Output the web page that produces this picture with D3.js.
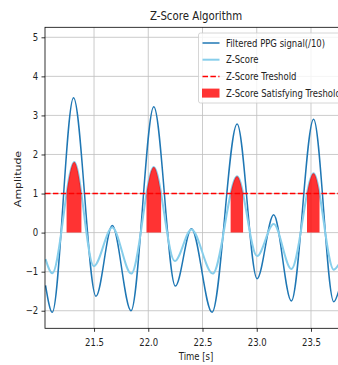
<!DOCTYPE html>
<html>
<head>
<meta charset="utf-8">
<script src="https://cdn.jsdelivr.net/npm/d3@7"></script>
<style>
  body { margin: 0; background: #fff; }
  svg { display: block; font-family: "DejaVu Sans", sans-serif; }
</style>
</head>
<body>
<div id="chart"></div>
<script>
// values (extrema + edge points)
const ppgTime = [21.053, 21.115, 21.311, 21.518, 21.668, 21.841, 22.051, 22.25, 22.398, 22.588, 22.819, 23.003, 23.156, 23.319, 23.524, 23.71, 23.755];
const ppgValue = [-1.35, -2.04, 3.45, -1.63, 0.18, -2.0, 3.22, -1.37, 0.1, -2.04, 2.78, -1.18, 0.46, -1.75, 2.9, -1.77, -1.5];
const zTime = [21.053, 21.115, 21.318, 21.498, 21.668, 21.843, 22.051, 22.244, 22.398, 22.594, 22.819, 23.003, 23.156, 23.319, 23.524, 23.71, 23.755];
const zValue = [-0.68, -1.04, 1.81, -0.86, 0.13, -1.05, 1.68, -0.73, 0.08, -1.05, 1.44, -0.6, 0.22, -0.93, 1.52, -0.95, -0.82];
const threshold = 1;
const xTicks = [21.5, 22.0, 22.5, 23.0, 23.5];
const yTicks = [-2, -1, 0, 1, 2, 3, 4, 5];
const legendLabels = ["Filtered PPG signal(/10)", "Z-Score", "Z-Score Treshold", "Z-Score Satisfying Treshold"];

const width = 338, height = 365;
const mLeft = 45, mRight = 347, mTop = 27.3, mBottom = 328.3;
const squish = 0.85;

const ppg = ppgTime.map((t, i) => ({t, v: ppgValue[i]}));
const zs = zTime.map((t, i) => ({t, v: zValue[i]}));

const x = d3.scaleLinear().domain([21.048, 23.832]).range([mLeft, mRight]);
const y = d3.scaleLinear().domain([-2.45, 5.256]).range([mBottom, mTop]);

const svg = d3.select("#chart").append("svg")
  .attr("width", width)
  .attr("height", height);

svg.append("clipPath").attr("id", "plot")
  .append("rect")
  .attr("x", mLeft).attr("y", mTop)
  .attr("width", mRight - mLeft).attr("height", mBottom - mTop);

// grid
const grid = svg.append("g").attr("stroke", "#b0b0b0").attr("stroke-width", 0.8).attr("opacity", 0.8);
grid.selectAll("line.gx").data(xTicks).join("line")
  .attr("x1", d => x(d)).attr("x2", d => x(d))
  .attr("y1", mTop).attr("y2", mBottom);
grid.selectAll("line.gy").data(yTicks).join("line")
  .attr("x1", mLeft).attr("x2", mRight)
  .attr("y1", d => y(d)).attr("y2", d => y(d));

const plot = svg.append("g").attr("clip-path", "url(#plot)");

const line = d3.line().x(d => x(d.t)).y(d => y(d.v)).curve(d3.curveMonotoneX);

plot.append("path")
  .attr("d", line(ppg))
  .attr("fill", "none")
  .attr("stroke", "#1f77b4")
  .attr("stroke-width", 1.5);

const zPath = plot.append("path")
  .attr("d", line(zs))
  .attr("fill", "none")
  .attr("stroke", "#87ceeb")
  .attr("stroke-width", 2);

plot.append("line")
  .attr("x1", mLeft).attr("x2", mRight)
  .attr("y1", y(threshold)).attr("y2", y(threshold))
  .attr("stroke", "red")
  .attr("stroke-width", 1.5)
  .attr("stroke-dasharray", "5.5,2.4");

// spans where the drawn z-score curve is above the threshold
const node = zPath.node();
const len = node.getTotalLength();
const spans = [];
let cur = null;
for (let s = 0; s <= len; s += 0.25) {
  const p = node.getPointAtLength(s);
  if (p.y < y(threshold)) {
    if (!cur) cur = [p.x, p.x];
    cur[1] = p.x;
  } else if (cur) { spans.push(cur); cur = null; }
}
if (cur) spans.push(cur);

const fillClip = svg.append("clipPath").attr("id", "above");
fillClip.selectAll("rect").data(spans).join("rect")
  .attr("x", d => d[0]).attr("width", d => d[1] - d[0])
  .attr("y", mTop).attr("height", mBottom - mTop);

const area = d3.area().x(d => x(d.t)).y0(y(0)).y1(d => y(d.v)).curve(d3.curveMonotoneX);
plot.append("g").attr("clip-path", "url(#above)")
  .append("path")
  .attr("d", area(zs))
  .attr("fill", "red")
  .attr("fill-opacity", 0.8);

// axes
const xAxis = svg.append("g")
  .attr("transform", `translate(0,${mBottom})`)
  .call(d3.axisBottom(x).tickValues(xTicks).tickFormat(d3.format(".1f")).tickSize(3.5).tickPadding(7));
const yAxis = svg.append("g")
  .attr("transform", `translate(${mLeft},0)`)
  .call(d3.axisLeft(y).tickValues(yTicks).tickFormat(d => d < 0 ? "\u2212" + Math.abs(d) : d).tickSize(3.5).tickPadding(4.5));

[xAxis, yAxis].forEach(a => {
  a.select(".domain").remove();
  a.selectAll("line").attr("stroke", "#000").attr("stroke-width", 0.8);
  a.selectAll("text")
    .attr("font-size", 10)
    .attr("fill", "#222")
    .attr("font-family", "DejaVu Sans")
    .attr("transform", `scale(${squish},1)`);
});

svg.append("rect")
  .attr("x", mLeft).attr("y", mTop)
  .attr("width", mRight - mLeft).attr("height", mBottom - mTop)
  .attr("fill", "none")
  .attr("stroke", "#000")
  .attr("stroke-width", 0.8);

// titles
svg.append("text")
  .attr("transform", `translate(${(mLeft + mRight) / 2},19.5) scale(${squish},1)`)
  .attr("text-anchor", "middle")
  .attr("font-size", 12)
  .attr("fill", "#222")
  .text("Z-Score Algorithm");

svg.append("text")
  .attr("transform", `translate(${(mLeft + mRight) / 2},359.5) scale(${squish},1)`)
  .attr("text-anchor", "middle")
  .attr("font-size", 10)
  .attr("fill", "#222")
  .text("Time [s]");

svg.append("text")
  .attr("transform", `translate(20.5,179) rotate(-90) scale(1,${squish})`)
  .attr("text-anchor", "middle")
  .attr("font-size", 11)
  .attr("fill", "#222")
  .text("Amplitude");

// legend
const lg = svg.append("g").attr("transform", "translate(198.5,33)");
lg.append("rect")
  .attr("width", 160).attr("height", 70)
  .attr("rx", 2)
  .attr("fill", "#fff").attr("fill-opacity", 0.8)
  .attr("stroke", "#ccc").attr("stroke-width", 0.8);

const rows = lg.selectAll("g.row").data(legendLabels).join("g")
  .attr("transform", (d, i) => `translate(0,${10 + i * 16.7})`);

rows.filter((d, i) => i < 3).append("line")
  .attr("x1", 4).attr("x2", 21)
  .attr("stroke", (d, i) => ["#1f77b4", "#87ceeb", "red"][i])
  .attr("stroke-width", (d, i) => i === 1 ? 2 : 1.5)
  .attr("stroke-dasharray", (d, i) => i === 2 ? "5.5,2.4" : null);

rows.filter((d, i) => i === 3).append("rect")
  .attr("x", 3.5).attr("y", -4.5)
  .attr("width", 17.5).attr("height", 9)
  .attr("fill", "red").attr("fill-opacity", 0.8);

rows.append("text")
  .attr("transform", `translate(27.5,3.5) scale(${squish},1)`)
  .attr("font-size", 10)
  .attr("fill", "#222")
  .text(d => d);
</script>
</body>
</html>
